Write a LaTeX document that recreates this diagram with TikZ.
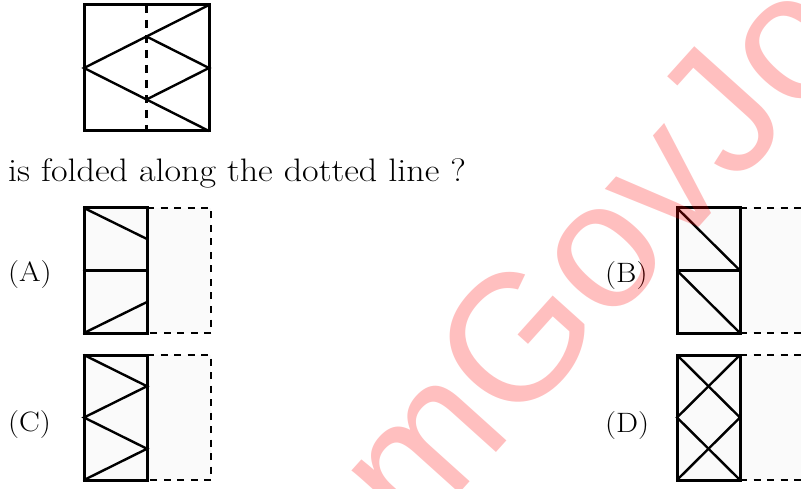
\documentclass[tikz,border=0pt]{standalone}
\usepackage{fontspec}
\newfontfamily\wmfont{Liberation Sans}
\newcommand{\wide}[1]{\scalebox{1.11}[1]{#1}}
\tikzset{
  outer/.style={line width=3pt, line join=miter},
  inner/.style={line width=2.4pt, line cap=round},
  fold/.style={line width=2.6pt, dash pattern=on 7pt off 6.5pt},
  paper/.style={fill=black!2},
  lbl/.style={anchor=base west, inner sep=0pt, font=\fontsize{28}{34}\selectfont},
}
\begin{document}
\begin{tikzpicture}[x=1pt, y=-1pt]
\useasboundingbox (0,0) rectangle (801,489);
% question figure
\draw[outer, fill=white] (84,5) rectangle (209,131);
\draw[line width=2.4pt, dash pattern=on 8pt off 7pt] (146.5,5) -- (146.5,131);
\draw[inner] (209,5) -- (84,68) -- (209,131);
\draw[inner] (146.5,36.5) -- (209,68) -- (146.5,99.5);
\node[anchor=base west, inner sep=0pt, font=\fontsize{32.5}{39}\selectfont] (q) at (8,182) {\wide{is folded along the dotted line ?}};
% (A)
\node[lbl] (la) at (8,282) {\wide{(A)}};
\fill[paper] (147,208) rectangle (211,333);
\draw[fold] (147,208) -- (211,208) -- (211,333) -- (147,333);
\draw[outer, paper] (84,208) rectangle (147,333);
\draw[inner] (84,208) -- (147,239);
\draw[inner] (84,270.5) -- (147,270.5);
\draw[inner] (84,333) -- (147,302);
% (B)
\node[lbl] (lb) at (605,283) {\wide{(B)}};
\fill[paper] (740,208) rectangle (805,333);
\draw[fold] (740,208) -- (805,208);
\draw[fold] (740,333) -- (805,333);
\draw[outer, paper] (677,208) rectangle (740,333);
\draw[inner] (677,270.5) -- (740,270.5);
\draw[inner] (677,208) -- (740,270.5);
\draw[inner] (677,270.5) -- (740,333);
% (C)
\node[lbl] (lc) at (8,431) {\wide{(C)}};
\fill[paper] (147,355) rectangle (211,480);
\draw[fold] (147,355) -- (211,355) -- (211,480) -- (147,480);
\draw[outer, paper] (84,355) rectangle (147,480);
\draw[inner] (84,355) -- (147,386.25) -- (84,417.5) -- (147,448.75) -- (84,480);
% (D)
\node[lbl] (ld) at (605,432) {\wide{(D)}};
\fill[paper] (740,355) rectangle (805,480);
\draw[fold] (740,355) -- (805,355);
\draw[fold] (740,480) -- (805,480);
\draw[outer, paper] (677,355) rectangle (740,480);
\draw[inner] (677,355) -- (740,417.5) -- (677,480);
\draw[inner] (740,355) -- (677,417.5) -- (740,480);
% watermark
\begin{scope}
\clip (0,0) rectangle (801,489);
\node[anchor=base west, inner sep=0pt, rotate=48, text=red, opacity=0.25,
      font=\wmfont\fontsize{180}{180}\selectfont] (wm) at (207,774) {ExamGovJob};
\end{scope}
\end{tikzpicture}
\end{document}
